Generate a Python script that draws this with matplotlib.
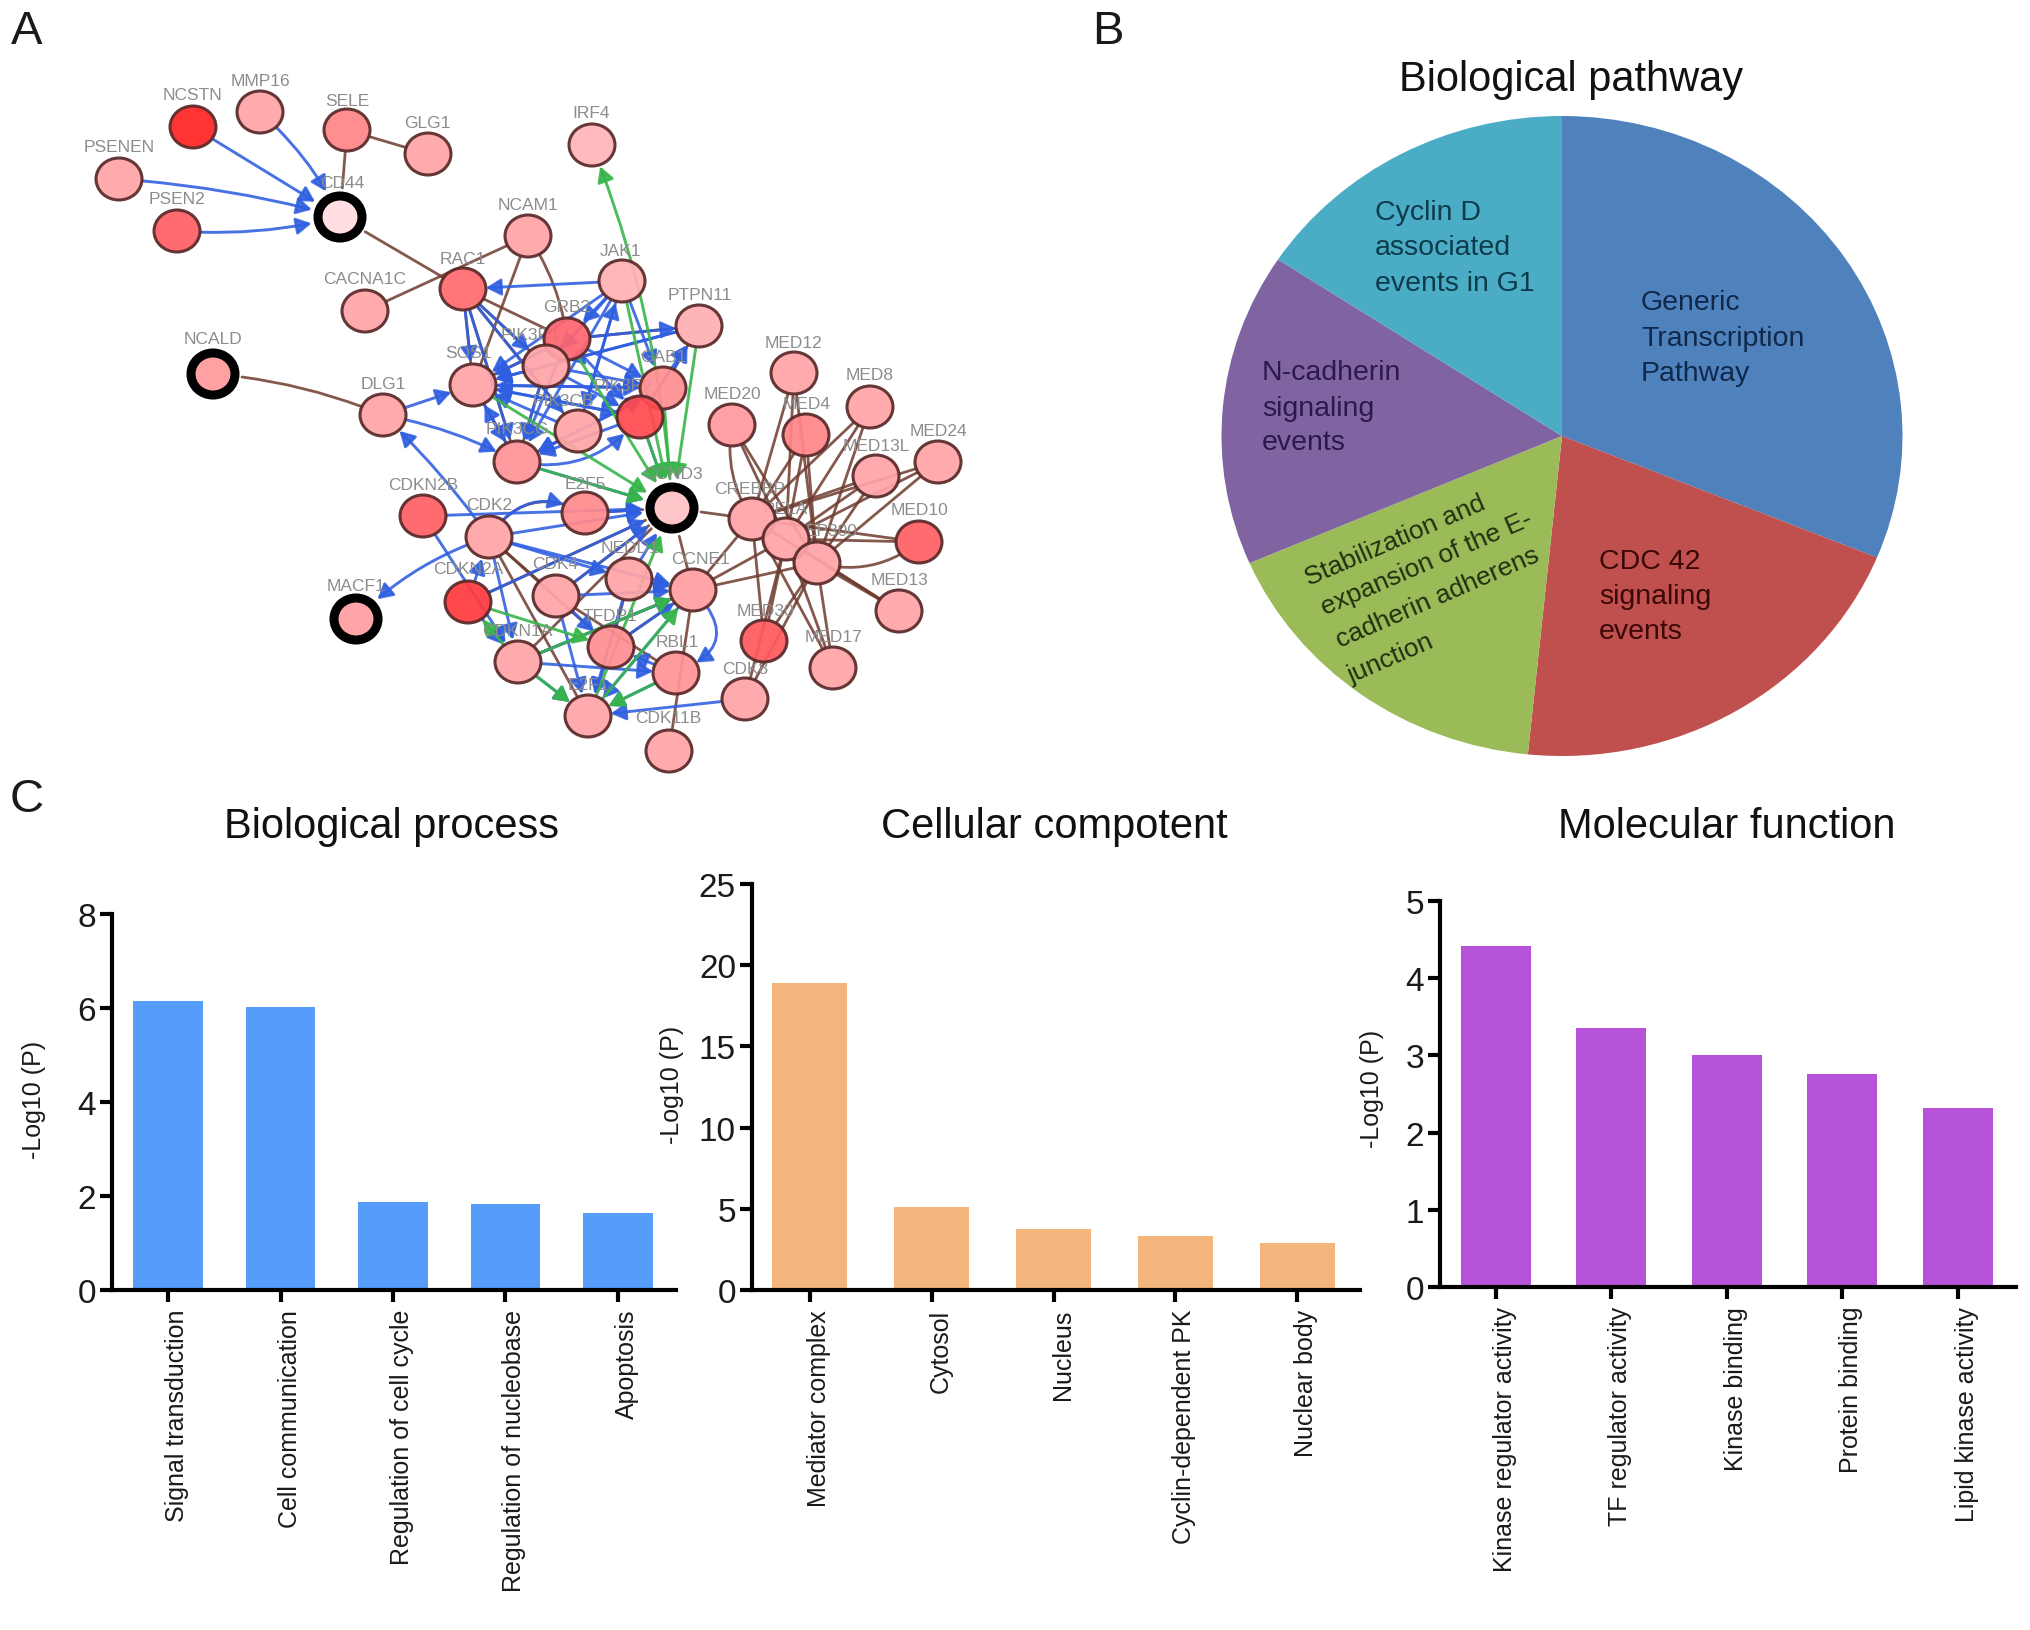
# Three panel figure: gene network, pathway pie and GO bar charts
import matplotlib
matplotlib.use('Agg')
import matplotlib.pyplot as plt
from matplotlib.patches import Ellipse, FancyArrowPatch
from matplotlib.transforms import ScaledTranslation

plt.rcParams['font.family'] = ['Liberation Sans', 'DejaVu Sans']

W, H = 2031, 1631

# network nodes: name -> position (pixels)
node_xy = {
    'NCSTN': (193, 128), 'MMP16': (260, 113), 'SELE': (347, 131), 'GLG1': (428, 155),
    'PSENEN': (119, 180), 'CD44': (340, 218), 'PSEN2': (177, 232), 'IRF4': (592, 146),
    'NCAM1': (528, 237), 'RAC1': (463, 290), 'CACNA1C': (365, 312), 'NCALD': (213, 375),
    'DLG1': (383, 416), 'SOS1': (473, 386), 'JAK1': (622, 282), 'PTPN11': (699, 327),
    'GRB2': (567, 340), 'PIK3R1': (546, 367), 'GAB1': (663, 389), 'PIK3R2': (640, 418),
    'PIK3CB': (578, 432), 'PIK3CG': (517, 463), 'CCND3': (672, 509), 'E2F5': (585, 514),
    'CDKN2B': (423, 517), 'CDK2': (489, 538), 'MED20': (732, 426), 'MED12': (794, 374),
    'MED8': (870, 408), 'MED4': (806, 436), 'MED24': (938, 463), 'MED13L': (876, 477),
    'CREBBP': (752, 520), 'RELA': (786, 540), 'EP300': (817, 564), 'MED10': (919, 543),
    'MED13': (899, 612), 'MED30': (764, 642), 'MED17': (833, 669), 'CDK8': (745, 700),
    'MACF1': (356, 620), 'CDKN2A': (468, 603), 'CDK4': (556, 597), 'NEDD1': (629, 580),
    'CCNE1': (693, 591), 'CDKN1A': (518, 663), 'TFDP1': (611, 648), 'RBL1': (676, 674),
    'E2F1': (588, 717), 'CDK11B': (669, 752),
}
node_color = {
    'NCSTN': '#FF2424', 'SELE': '#FF8689', 'PSEN2': '#FF6064', 'RAC1': '#FF6A6E',
    'GRB2': '#FF6670', 'CD44': '#FFDDE0', 'CCND3': '#FFC6C9', 'JAK1': '#FFB2B5',
    'IRF4': '#FFB5B8', 'MED10': '#FF6064', 'MED30': '#FF5A5E', 'CDKN2B': '#FF6064',
    'CDKN2A': '#FF3A3E', 'PIK3R2': '#FF4A50', 'E2F5': '#FF8A8D', 'GAB1': '#FF8F92',
    'MED4': '#FF8589', 'PIK3CG': '#FF9497', 'TFDP1': '#FF8F92', 'RBL1': '#FF9497',
    'MED20': '#FF9A9D', 'CCNE1': '#FF9DA0', 'PTPN11': '#FFB0B3', 'NCALD': '#FFA0A3',
}
default_color = '#FFA4A7'
ring_nodes = ['CD44', 'NCALD', 'CCND3', 'MACF1']

# label centres (pixels)
label_xy = {
    'NCSTN': (193, 96), 'MMP16': (260, 82), 'SELE': (347, 101), 'GLG1': (427, 124),
    'PSENEN': (119, 148), 'PSEN2': (177, 200), 'CD44': (342, 183), 'IRF4': (591, 114),
    'NCAM1': (528, 206), 'RAC1': (463, 259), 'CACNA1C': (365, 280), 'NCALD': (213, 339),
    'DLG1': (383, 385), 'SOS1': (468, 353), 'JAK1': (621, 252), 'PTPN11': (700, 295),
    'GRB2': (567, 307), 'PIK3R1': (530, 336), 'GAB1': (663, 357), 'PIK3R2': (623, 387),
    'PIK3CB': (563, 402), 'PIK3CG': (517, 430), 'CCND3': (673, 475), 'E2F5': (585, 485),
    'CDKN2B': (423, 486), 'CDK2': (489, 506), 'MED20': (732, 395), 'MED12': (794, 343),
    'MED8': (870, 376), 'MED4': (807, 405), 'MED24': (938, 432), 'MED13L': (876, 447),
    'CREBBP': (750, 490), 'RELA': (785, 510), 'EP300': (832, 532), 'MED10': (920, 511),
    'MED13': (900, 581), 'MED30': (765, 612), 'MED17': (833, 638), 'CDK8': (745, 670),
    'MACF1': (356, 587), 'CDKN2A': (468, 570), 'CDK4': (555, 565), 'NEDD1': (630, 549),
    'CCNE1': (700, 560), 'CDKN1A': (517, 632), 'TFDP1': (610, 617), 'RBL1': (677, 643),
    'E2F1': (588, 686), 'CDK11B': (668, 719),
}

brown_edges = [
    ('SELE', 'GLG1'), ('SELE', 'CD44'), ('CD44', 'RAC1'), ('CACNA1C', 'NCAM1'),
    ('NCAM1', 'SOS1'), ('NCAM1', 'GRB2'), ('NCALD', 'DLG1'), ('RAC1', 'PIK3R1'),
    ('RAC1', 'GRB2'), ('RAC1', 'PIK3CG'), ('RAC1', 'SOS1'), ('RAC1', 'PIK3CB'),
    ('GRB2', 'PTPN11'), ('GRB2', 'SOS1'), ('PIK3R1', 'PIK3CG'), ('SOS1', 'PIK3CG'),
    ('PTPN11', 'GAB1'), ('CDK2', 'E2F5'), ('E2F5', 'CCND3'), ('CCND3', 'CREBBP'),
    ('CCND3', 'CDKN2A'), ('CCND3', 'CDK4'), ('CCND3', 'CCNE1'), ('CDK2', 'CDK4'),
    ('CDK2', 'TFDP1'), ('CDK2', 'E2F1'), ('CDK4', 'RBL1'), ('CCNE1', 'CDK11B'),
    ('CREBBP', 'CCNE1'), ('RELA', 'CCNE1'), ('EP300', 'CCNE1'), ('CCNE1', 'TFDP1'),
    ('CCNE1', 'CDKN1A'), ('CCND3', 'CDKN1A'), ('TFDP1', 'NEDD1'),
    ('MED20', 'CREBBP'), ('MED20', 'RELA'), ('MED20', 'EP300'), ('MED12', 'CREBBP'),
    ('MED12', 'RELA'), ('MED12', 'EP300'), ('MED8', 'CREBBP'), ('MED8', 'RELA'),
    ('MED8', 'EP300'), ('MED4', 'CREBBP'), ('MED4', 'RELA'), ('MED4', 'EP300'),
    ('MED24', 'CREBBP'), ('MED24', 'RELA'), ('MED24', 'EP300'), ('MED13L', 'CREBBP'),
    ('MED13L', 'RELA'), ('MED13L', 'EP300'), ('MED10', 'CREBBP'), ('MED10', 'RELA'),
    ('MED10', 'EP300'), ('MED13', 'RELA'), ('MED13', 'EP300'), ('MED13', 'CREBBP'),
    ('MED30', 'CREBBP'), ('MED30', 'RELA'), ('MED30', 'EP300'), ('MED17', 'CREBBP'),
    ('MED17', 'RELA'), ('MED17', 'EP300'), ('CDK8', 'EP300'), ('CDK8', 'RELA'),
    ('PIK3R1', 'GRB2'), ('PIK3CG', 'PIK3CB'),
]
blue_edges = [
    ('NCSTN', 'CD44'), ('MMP16', 'CD44'), ('PSENEN', 'CD44'), ('PSEN2', 'CD44'),
    ('JAK1', 'RAC1'), ('DLG1', 'PIK3CG'), ('CDK2', 'DLG1'), ('DLG1', 'SOS1'),
    ('JAK1', 'PIK3R1'), ('JAK1', 'GRB2'), ('JAK1', 'SOS1'), ('JAK1', 'PIK3CG'),
    ('JAK1', 'PIK3CB'), ('JAK1', 'GAB1'), ('PIK3CB', 'JAK1'), ('GRB2', 'PTPN11'),
    ('PIK3R2', 'PTPN11'), ('PTPN11', 'SOS1'), ('PTPN11', 'PIK3R1'), ('RAC1', 'PIK3R1'),
    ('RAC1', 'PIK3CG'), ('RAC1', 'PIK3CB'), ('RAC1', 'SOS1'), ('PIK3CG', 'SOS1'),
    ('SOS1', 'PIK3CG'), ('SOS1', 'PIK3R2'), ('SOS1', 'GAB1'), ('GAB1', 'SOS1'),
    ('PIK3R2', 'SOS1'), ('GRB2', 'PIK3CG'), ('PIK3R1', 'PIK3CG'), ('PIK3CB', 'PIK3CG'),
    ('PIK3R2', 'PIK3CG'), ('GAB1', 'PIK3CG'), ('GRB2', 'GAB1'), ('GRB2', 'PIK3R2'),
    ('PIK3R1', 'GAB1'), ('PIK3R1', 'PIK3R2'), ('PIK3CB', 'SOS1'), ('PIK3CB', 'GAB1'),
    ('PIK3R1', 'SOS1'), ('GRB2', 'SOS1'), ('GAB1', 'PTPN11'),
    ('PIK3CG', 'PIK3R2'), ('PIK3CG', 'CCND3'), ('PIK3R2', 'CCND3'), ('CDKN2B', 'CCND3'),
    ('E2F5', 'CCND3'), ('CDK2', 'E2F5'), ('CDK2', 'NEDD1'), ('CDK2', 'CCND3'),
    ('CDK2', 'CCNE1'), ('CDK2', 'CDKN1A'), ('CDK2', 'MACF1'), ('CDKN2B', 'CDKN1A'),
    ('CDKN2A', 'CDK2'), ('CDKN2A', 'CDKN1A'), ('CDKN2A', 'CCND3'), ('CDK4', 'CCNE1'),
    ('CDK4', 'CCND3'), ('CDK4', 'TFDP1'), ('CDK4', 'E2F1'), ('CDKN1A', 'RBL1'),
    ('CDKN1A', 'CCNE1'), ('CDKN1A', 'E2F1'), ('NEDD1', 'CCNE1'), ('NEDD1', 'E2F1'),
    ('NEDD1', 'CCND3'), ('TFDP1', 'CCNE1'), ('TFDP1', 'E2F1'), ('RBL1', 'TFDP1'),
    ('RBL1', 'E2F1'), ('CCNE1', 'RBL1'), ('CCNE1', 'E2F1'), ('CDK8', 'E2F1'),
]
green_edges = [
    ('CCND3', 'IRF4'), ('PTPN11', 'CCND3'), ('GAB1', 'CCND3'), ('PIK3R2', 'CCND3'),
    ('GRB2', 'CCND3'), ('PIK3CG', 'CCND3'), ('SOS1', 'CCND3'), ('JAK1', 'CCND3'),
    ('E2F1', 'CCND3'), ('CDKN1A', 'CDKN2A'), ('CDKN2A', 'TFDP1'),
    ('CDKN1A', 'E2F1'), ('RBL1', 'E2F1'), ('E2F1', 'CCNE1'), ('CDKN1A', 'CCNE1'),
]
# bent edges and how far they bow
edge_bend = {
    ('MMP16', 'CD44'): -0.1, ('PSENEN', 'CD44'): -0.05, ('PSEN2', 'CD44'): 0.08,
    ('NCALD', 'DLG1'): -0.08, ('DLG1', 'PIK3CG'): -0.08, ('CDK2', 'DLG1'): 0.05,
    ('CDK2', 'E2F5'): -0.45, ('CCNE1', 'RBL1'): -0.75, ('CCND3', 'IRF4'): 0.08,
    ('CDK2', 'MACF1'): 0.12, ('PIK3CG', 'PIK3R2'): 0.3, ('MED20', 'CREBBP'): 0.2,
    ('MED10', 'EP300'): -0.25, ('NCAM1', 'GRB2'): -0.12,
}

# pie chart
pie_labels = [
    ['Generic', 'Transcription', 'Pathway'],
    ['CDC 42', 'signaling', 'events'],
    ['Stabilization and', 'expansion of the E-', 'cadherin adherens', 'junction'],
    ['N-cadherin', 'signaling', 'events'],
    ['Cyclin D', 'associated', 'events in G1'],
]
pie_values = [31.2, 20.4, 16.9, 15.8, 15.7]
pie_colors = ['#4F81BD', '#C0504D', '#9BBB59', '#8064A2', '#4BACC6']

# bar charts
bp_names = ['Signal transduction', 'Cell communication', 'Regulation of cell cycle',
            'Regulation of nucleobase', 'Apoptosis']
bp_values = [6.15, 6.03, 1.88, 1.82, 1.63]
cc_names = ['Mediator complex', 'Cytosol', 'Nucleus', 'Cyclin-dependent PK', 'Nuclear body']
cc_values = [18.9, 5.1, 3.75, 3.35, 2.9]
mf_names = ['Kinase regulator activity', 'TF regulator activity', 'Kinase binding',
            'Protein binding', 'Lipid kinase activity']
mf_values = [4.42, 3.36, 3.0, 2.76, 2.32]


def px_axes(left, top, right, bottom):
    return fig.add_axes([left / W, 1 - bottom / H, (right - left) / W, (bottom - top) / H])


fig = plt.figure(figsize=(W / 100, H / 100), dpi=100)

# pixel canvas for the network and the free text, kept above the pie
canvas = fig.add_axes([0, 0, 1, 1])
canvas.set_xlim(0, W)
canvas.set_ylim(H, 0)
canvas.axis('off')
canvas.set_zorder(5)

for letter, x, y in [('A', 27, 32), ('B', 1108, 32), ('C', 27, 800)]:
    canvas.text(x, y, letter, fontsize=34, ha='center', va='center', color='#1a1a1a')


def node_shrink(name):
    return 21 if name in ring_nodes else 16.5


def draw_edges(edges, color, lw, arrow, alpha):
    for a, b in edges:
        style = '-|>,head_length=0.5,head_width=0.28' if arrow else '-'
        bend = edge_bend.get((a, b), 0)
        canvas.add_patch(FancyArrowPatch(
            node_xy[a], node_xy[b], arrowstyle=style, mutation_scale=18,
            connectionstyle=f'arc3,rad={bend}', color=color, lw=lw, alpha=alpha,
            shrinkA=node_shrink(a), shrinkB=node_shrink(b), zorder=2))


draw_edges(brown_edges, '#6E3B2E', 2.0, False, 0.85)
draw_edges(blue_edges, '#2F5FE0', 2.1, True, 0.88)
draw_edges(green_edges, '#38B54A', 2.1, True, 0.9)

for name, (x, y) in label_xy.items():
    canvas.text(x, y, name, fontsize=12.5, color='#8C8C8C', ha='center', va='center', zorder=3)

for name, (x, y) in node_xy.items():
    fill = node_color.get(name, default_color)
    if name in ring_nodes:
        canvas.add_patch(Ellipse((x, y), 44, 42, facecolor=fill, edgecolor='black',
                                 lw=6.5, zorder=4))
    else:
        canvas.add_patch(Ellipse((x, y), 46, 42, facecolor=fill, edgecolor='#5A2A2A',
                                 lw=2.2, alpha=0.93, zorder=4))

# panel B: squashed pie so it keeps the oval shape
pie_ax = px_axes(1562 - 340.5, 437 - 320, 1562 + 340.5, 437 + 320)
pie_ax.pie(pie_values, colors=pie_colors, startangle=90, counterclock=False)
pie_ax.set_aspect('auto')
pie_ax.set_xlim(-1, 1)
pie_ax.set_ylim(-1, 1)

canvas.text(1571, 80, 'Biological pathway', fontsize=30, ha='center', va='center', color='#111111')

text_spots = [
    (1641, [303, 339, 374], '#10284A'),
    (1599, [562, 597, 632], '#3A0808'),
    (None, None, '#1F3010'),
    (1262, [373, 409, 443], '#2A1A4A'),
    (1375, [213, 248, 284], '#0D3B4A'),
]
for lines, (x, ys, color) in zip(pie_labels, text_spots):
    if x is None:
        continue
    for line, y in zip(lines, ys):
        canvas.text(x, y, line, fontsize=20.5, ha='left', va='center', color=color, zorder=6)

slanted = [(1306, 580), (1322, 609), (1337, 642), (1349, 677)]
for line, (x, y) in zip(pie_labels[2], slanted):
    canvas.text(x, y, line, fontsize=19, ha='left', va='center', rotation=23.5,
                rotation_mode='anchor', color='#1F3010', zorder=6)

# panel C
panels = [
    dict(names=bp_names, values=bp_values, color='#559CFB', box=(112, 915, 676, 1291),
         xlim=(-0.498, 4.516), ymax=8, yticks=[0, 2, 4, 6, 8], bar=0.617,
         title='Biological process', title_x=392, ylab=(34, 1100)),
    dict(names=cc_names, values=cc_values, color='#F2B57C', box=(752, 885, 1360, 1291),
         xlim=(-0.476, 4.516), ymax=25, yticks=[0, 5, 10, 15, 20, 25], bar=0.616,
         title='Cellular compotent', title_x=1054, ylab=(672, 1085)),
    dict(names=mf_names, values=mf_values, color='#B653D8', box=(1440, 902, 2016, 1288),
         xlim=(-0.485, 4.506), ymax=5, yticks=[0, 1, 2, 3, 4, 5], bar=0.607,
         title='Molecular function', title_x=1727, ylab=(1372, 1089)),
]
for p in panels:
    ax = px_axes(*p['box'])
    ax.patch.set_alpha(0)
    ax.bar(range(5), p['values'], width=p['bar'], color=p['color'])
    ax.set_xlim(*p['xlim'])
    ax.set_ylim(0, p['ymax'])
    ax.set_yticks(p['yticks'])
    ax.set_xticks(range(5))
    ax.set_xticklabels(p['names'], rotation=90, ha='center', va='top', fontsize=18, color='#1a1a1a')
    ax.tick_params(axis='y', length=8.6, width=3, labelsize=24, pad=3, labelcolor='#1a1a1a')
    ax.tick_params(axis='x', length=8.6, width=3, pad=5)
    nudge = ScaledTranslation(9 / 100, 0, fig.dpi_scale_trans)
    for lab in ax.get_xticklabels():
        lab.set_transform(lab.get_transform() + nudge)
    ax.spines['top'].set_visible(False)
    ax.spines['right'].set_visible(False)
    ax.spines['left'].set_linewidth(3)
    ax.spines['bottom'].set_linewidth(3)
    canvas.text(p['title_x'], 827, p['title'], fontsize=30, ha='center', va='center', color='#111111')
    canvas.text(p['ylab'][0], p['ylab'][1], '-Log10 (P)', fontsize=18, rotation=90,
                ha='center', va='center', color='#1a1a1a')

fig.savefig('out.png', dpi=100)
